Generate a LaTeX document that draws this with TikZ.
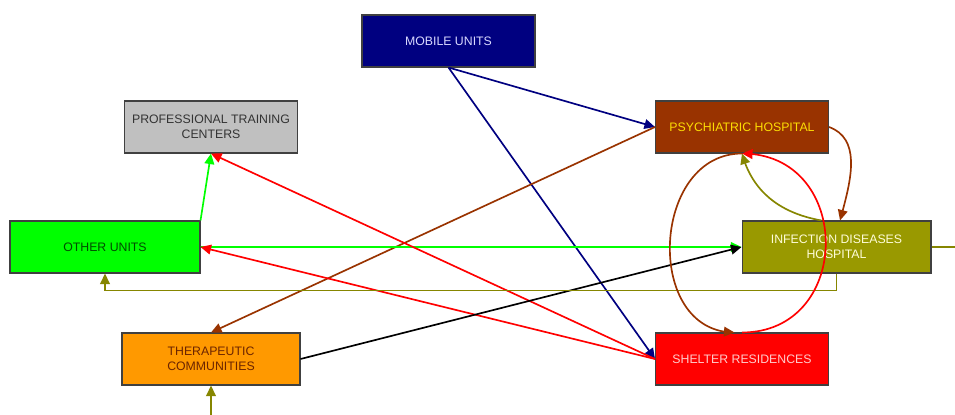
\documentclass[tikz,border=0pt]{standalone}
\usepackage{fontspec}
\setmainfont{Liberation Sans}
\usetikzlibrary{arrows.meta,bending}

\definecolor{navyblue}{HTML}{000080}
\definecolor{brownish}{HTML}{993300}
\definecolor{olivebox}{HTML}{999900}
\definecolor{oliveline}{HTML}{868600}
\definecolor{greenbox}{HTML}{00FF00}
\definecolor{orangebox}{HTML}{FF9900}
\definecolor{graybox}{HTML}{C0C0C0}

\tikzset{
  unit/.style={draw=black!75, line width=0.6pt, minimum width=3.46cm, minimum height=1.04cm,
    align=center, inner sep=1pt, font=\fontsize{7}{8.5}\selectfont},
  link/.style={->, >={Triangle[length=6pt,width=5.5pt]}, line width=0.95pt}
}

\begin{document}
\begin{tikzpicture}[x=0.02cm, y=-0.02cm]
    \useasboundingbox (0,0) rectangle (955,415);
    \clip (0,0) rectangle (955,415);

    % Nodes
    \node[unit, fill=navyblue, text=blue!15] (MU) at (448.5,41) {MOBILE UNITS};
    \node[unit, fill=graybox, text=black!80] (PTC) at (211,127) {PROFESSIONAL TRAINING\\CENTERS};
    \node[unit, fill=brownish, text=yellow!80!orange] (PH) at (742,127) {PSYCHIATRIC HOSPITAL};
    \node[unit, fill=greenbox, text=green!30!black, minimum width=3.8cm] (OU) at (105,247) {OTHER UNITS};
    \node[unit, fill=olivebox, text=yellow!15, minimum width=3.78cm] (IDH) at (836.5,247) {INFECTION DISEASES\\HOSPITAL};
    \node[unit, fill=orangebox, text=brownish!70!black, minimum width=3.56cm] (TC) at (211,359) {THERAPEUTIC\\COMMUNITIES};
    \node[unit, fill=red, text=red!20] (SR) at (742,359) {SHELTER RESIDENCES};

    % Straight Arrows
    \draw[link, navyblue] (MU.south) -- (PH.west);
    \draw[link, navyblue] (MU.south) -- (SR.west);
    \draw[link, brownish] (PH.west) -- (TC.north);
    \draw[link, greenbox] (OU.north east) -- (PTC.south);
    \draw[link, greenbox] (OU.east) -- (IDH.west);
    \draw[link, red] (SR.west) -- (PTC.south);
    \draw[link, red] (SR.west) -- (OU.east);
    \draw[link, black] (TC.east) -- (IDH.west);
    \draw[link, oliveline] (IDH.south) -- ++(0,17) -| (OU.south);
    \draw[link, oliveline] (IDH.east) -- ++(40,0) -- ++(0,190) -| (TC.south);

    % Bending Arrows
    \draw[link, brownish] (PH.east) to[out=-20, in=75] ([xshift=2pt]IDH.north);
    \draw[link, oliveline] ([xshift=-0.3cm]IDH.north) to[out=170, in=-75] (PH.south);
    \draw[link, red] (SR.north) to[out=0, in=0, looseness=1.6] (PH.south);
    \draw[link, brownish] (PH.south) to[out=180, in=180, looseness=1.3] ([xshift=-0.15cm]SR.north);
\end{tikzpicture}
\end{document}
